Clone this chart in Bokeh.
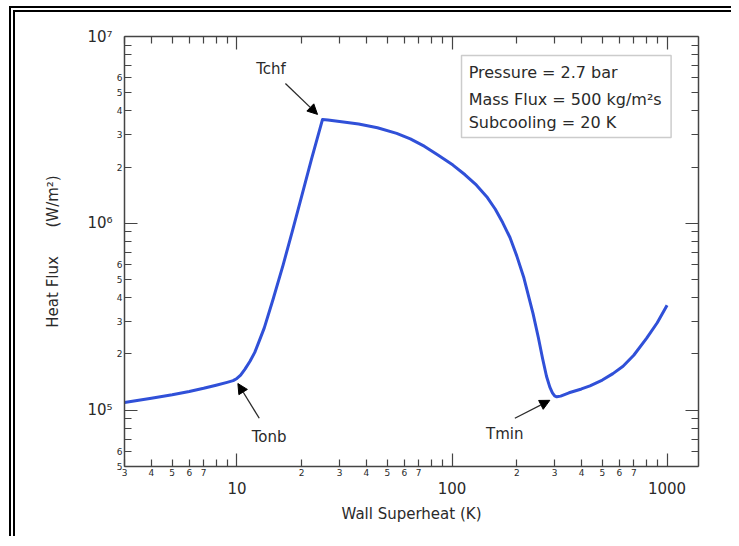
from bokeh.plotting import figure
from bokeh.models import LogAxis, FixedTicker, Arrow, NormalHead, Label, BoxAnnotation, ColumnDataSource
from bokeh.embed import file_html
from bokeh.resources import INLINE

# ---------------- data ----------------
wall_superheat = [3.0, 4, 5, 6, 7, 8, 9, 9.6, 10, 10.4, 10.9, 11.5, 12.1, 12.7, 13.4, 14.7, 16.4,
                  18.1, 20.0, 22.2, 25.0, 26.5, 30, 36.8, 45, 55.3, 64, 74.6, 86, 101,
                  115, 130, 145, 159, 172, 186, 200, 216, 238, 252, 264, 275, 285, 293, 300,
                  307, 320, 350, 400, 438, 500, 560, 624, 700, 804, 900, 1000]
heat_flux = [1.10e5, 1.16e5, 1.21e5, 1.26e5, 1.31e5, 1.36e5, 1.41e5, 1.44e5, 1.48e5, 1.54e5,
             1.66e5, 1.83e5, 2.04e5, 2.35e5, 2.76e5, 3.9e5, 6.0e5,
             9.1e5, 1.40e6, 2.2e6, 3.6e6, 3.57e6, 3.51e6, 3.40e6, 3.25e6, 3.03e6, 2.83e6,
             2.58e6, 2.32e6, 2.05e6, 1.82e6, 1.6e6, 1.39e6, 1.19e6, 1.01e6, 8.4e5, 6.7e5, 5.1e5,
             3.3e5, 2.45e5, 1.88e5, 1.52e5, 1.33e5, 1.24e5, 1.195e5, 1.18e5,
             1.19e5, 1.24e5, 1.30e5, 1.35e5, 1.45e5, 1.57e5, 1.72e5, 1.97e5, 2.43e5, 2.94e5, 3.65e5]

x_range_K = (3, 1400)
y_range_flux = (5e4, 1e7)

x_minor_ticks = [3, 4, 5, 6, 7, 8, 9, 20, 30, 40, 50, 60, 70, 80, 90,
                 200, 300, 400, 500, 600, 700, 800, 900]
x_minor_labels = ["3", "4", "5", "6", "7", "", "", "2", "3", "4", "5", "6", "7", "", "",
                  "2", "3", "4", "5", "6", "7", "", ""]
x_decade_ticks = [10, 100, 1000]
x_decade_labels = ["10", "100", "1000"]

y_minor_ticks = [5e4, 6e4, 7e4, 8e4, 9e4,
                 2e5, 3e5, 4e5, 5e5, 6e5, 7e5, 8e5, 9e5,
                 2e6, 3e6, 4e6, 5e6, 6e6, 7e6, 8e6, 9e6]
y_minor_labels = ["5", "6", "", "", "",
                  "2", "3", "4", "5", "6", "", "", "",
                  "2", "3", "4", "5", "6", "", "", ""]
y_decade_ticks = [1e5, 1e6, 1e7]
y_decade_labels = ["10\u2075", "10\u2076", "10\u2077"]

# annotations (data coordinates)
ann_names = ["Tchf", "Tonb", "Tmin"]
ann_text_x = [14.4, 14.1, 176]
ann_text_y = [6.66e6, 7.17e4, 7.45e4]
arrow_x0 = [16.8, 12.7, 196]
arrow_y0 = [5.6e6, 9.06e4, 9.06e4]
arrow_x1 = [23.7, 10.1, 285]
arrow_y1 = [3.83e6, 1.39e5, 1.13e5]

info_lines = ["Pressure = 2.7 bar", "Mass Flux = 500 kg/m\u00b2s", "Subcooling = 20 K"]
info_x = 119.5
info_y = [6.44e6, 4.6e6, 3.48e6]
info_box = dict(left=110.7, right=1044, bottom=2.88e6, top=7.91e6)

FONT = "DejaVu Sans"
AX = "#444444"
CURVE = "#3050d8"
TXT = "#2a2a2a"

p = figure(width=722, height=530, x_axis_type="log", y_axis_type="log",
           x_range=x_range_K, y_range=y_range_flux,
           output_backend="svg", toolbar_location=None,
           min_border_left=109, min_border_right=39, min_border_top=24, min_border_bottom=76)
p.styles = {"border-top": "6px double black", "border-left": "6px double black",
            "margin-left": "9px", "margin-top": "6px"}
p.xgrid.visible = False
p.ygrid.visible = False
p.outline_line_color = None
p.background_fill_color = "white"
p.border_fill_color = "white"


def frame_axis(ax, short_ticks, long_ticks, labels, font_size):
    ax.ticker = FixedTicker(ticks=short_ticks, minor_ticks=long_ticks)
    ax.major_label_overrides = {t: l for t, l in zip(short_ticks, labels)}
    ax.axis_line_color = AX
    ax.axis_line_width = 1.5
    ax.major_tick_line_color = AX
    ax.major_tick_line_width = 1.2
    ax.minor_tick_line_color = AX
    ax.minor_tick_line_width = 1.2
    ax.major_tick_in = 7
    ax.major_tick_out = 0
    ax.minor_tick_in = 13
    ax.minor_tick_out = 0
    ax.major_label_text_font = FONT
    ax.major_label_text_font_size = font_size
    ax.major_label_text_color = TXT
    ax.major_label_standoff = 2
    ax.axis_label = None
    ax.axis_label_standoff = 0


def label_axis(ax, ticks, labels, title, standoff, title_standoff):
    ax.ticker = FixedTicker(ticks=ticks)
    ax.major_label_overrides = {t: l for t, l in zip(ticks, labels)}
    ax.axis_line_color = None
    ax.major_tick_line_color = None
    ax.minor_tick_line_color = None
    ax.major_tick_in = 0
    ax.major_tick_out = 0
    ax.minor_tick_in = 0
    ax.minor_tick_out = 0
    ax.major_label_text_font = FONT
    ax.major_label_text_font_size = "15px"
    ax.major_label_text_color = TXT
    ax.major_label_standoff = standoff
    ax.axis_label = title
    ax.axis_label_text_font = FONT
    ax.axis_label_text_font_size = "15px"
    ax.axis_label_text_font_style = "normal"
    ax.axis_label_text_color = TXT
    ax.axis_label_standoff = title_standoff


# inner axes with minor tick labels
frame_axis(p.xaxis[0], x_minor_ticks, x_decade_ticks, x_minor_labels, "9px")
frame_axis(p.yaxis[0], y_minor_ticks, y_decade_ticks, y_minor_labels, "9px")

# mirrored frame axes (no labels)
top_ax = LogAxis()
frame_axis(top_ax, x_minor_ticks, x_decade_ticks, ["" for _ in x_minor_ticks], "0px")
right_ax = LogAxis()
frame_axis(right_ax, y_minor_ticks, y_decade_ticks, ["" for _ in y_minor_ticks], "0px")
p.add_layout(top_ax, "above")
p.add_layout(right_ax, "right")

# outer axes with decade labels and titles
bx = LogAxis()
label_axis(bx, x_decade_ticks, x_decade_labels, "Wall Superheat (K)", 3, 8)
p.add_layout(bx, "below")
ly = LogAxis()
label_axis(ly, y_decade_ticks, y_decade_labels,
           "Heat Flux" + "\u00a0" * 6 + "(W/m\u00b2)", 1, 22)
p.add_layout(ly, "left")

src = ColumnDataSource(dict(x=wall_superheat, y=heat_flux))
p.line("x", "y", source=src, line_color=CURVE, line_width=3, line_join="round")

for name, tx, ty, x0, y0, x1, y1 in zip(ann_names, ann_text_x, ann_text_y,
                                         arrow_x0, arrow_y0, arrow_x1, arrow_y1):
    p.add_layout(Arrow(end=NormalHead(size=10, fill_color="black", line_color="black"),
                       x_start=x0, y_start=y0, x_end=x1, y_end=y1,
                       line_color=TXT, line_width=1.3))
    p.add_layout(Label(x=tx, y=ty, text=name, text_align="center", text_baseline="middle",
                       text_font=FONT, text_font_size="15px", text_color=TXT))

p.add_layout(BoxAnnotation(fill_color=None, line_color="#555555", line_width=1.5, **info_box))
for line, ly_ in zip(info_lines, info_y):
    p.add_layout(Label(x=info_x, y=ly_, text=line, text_align="left", text_baseline="middle",
                       text_font=FONT, text_font_size="16px", text_color=TXT))

open("out.html", "w").write(file_html(p, INLINE))
